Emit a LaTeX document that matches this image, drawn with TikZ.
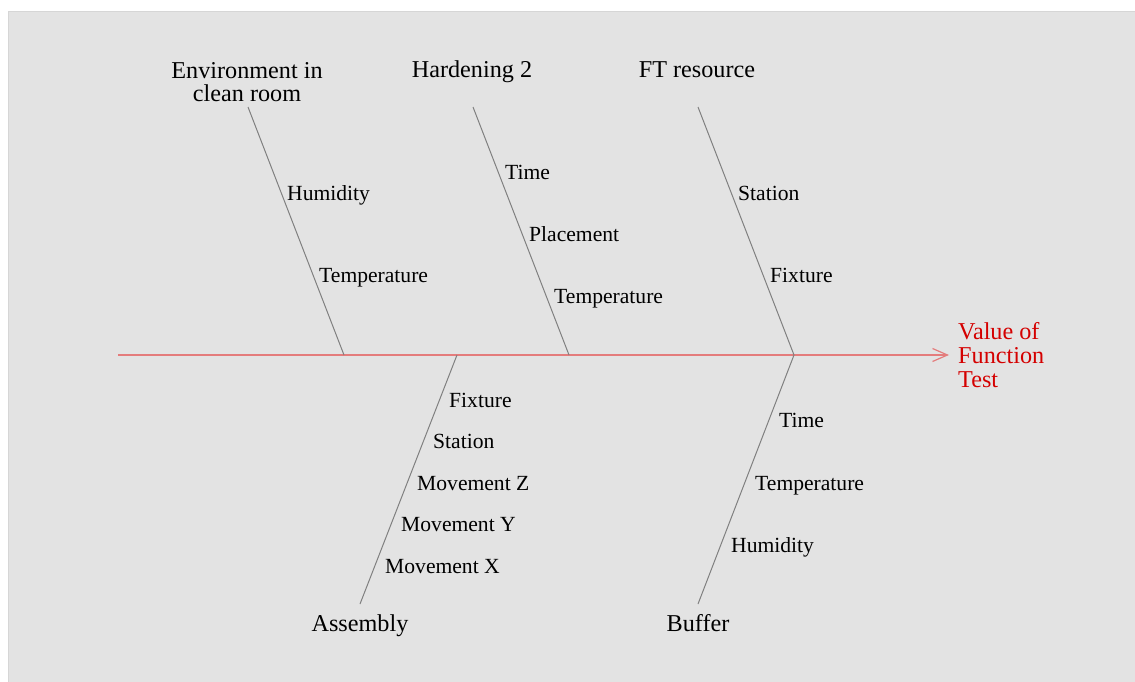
\documentclass[tikz,border=0pt]{standalone}
\usepackage{fontspec}
\setmainfont{Liberation Serif}
\usetikzlibrary{arrows.meta}
\definecolor{bg}{HTML}{E3E3E3}
\definecolor{bgedge}{HTML}{D6D6D6}
\definecolor{bone}{HTML}{808080}
\definecolor{spinecol}{HTML}{E47C7C}
\definecolor{effectcol}{HTML}{D40000}
\tikzset{
  bonestyle/.style={draw=bone, line width=1pt},
  spinestyle/.style={draw=spinecol, line width=1.4pt, -{Straight Barb[length=15pt,width=13pt,line width=1.2pt]}},
  cause/.style={font=\fontsize{24.2}{23.5}\selectfont, inner sep=0pt, text=black, text height=16pt, text depth=0pt},
  causetwo/.style={font=\fontsize{24.2}{23.5}\selectfont, align=center, inner sep=0pt, text=black},
  sub/.style={font=\fontsize{21.6}{24}\selectfont, anchor=west, inner sep=0pt, text=black, text height=14.3pt, text depth=0pt},
  effectstyle/.style={font=\fontsize{24.2}{24}\selectfont, align=left, anchor=west, inner sep=0pt, text=effectcol},
}
\begin{document}
\begin{tikzpicture}[x=1pt,y=-1pt]
\useasboundingbox (0,0) rectangle (1135,682);
\fill[bg] (8,11) rectangle (1135,682);
\draw[bgedge, line width=0.8pt] (8,682) -- (8,11) -- (1135,11);

% spine
\coordinate (tail) at (118,355);
\coordinate (head) at (949,355);
\draw[spinestyle] (tail) -- (head);
\node[effectstyle] (effect) at (958,355) {Value of\\Function\\Test};

% joints on spine
\coordinate (j1) at (344,355);
\coordinate (j2) at (569,355);
\coordinate (j3) at (794,355);
\coordinate (j4) at (457,355);

% top bones
\coordinate (t1) at (248,107);
\coordinate (t2) at (473,107);
\coordinate (t3) at (698,107);
\draw[bonestyle] (t1) -- (j1);
\draw[bonestyle] (t2) -- (j2);
\draw[bonestyle] (t3) -- (j3);

% bottom bones
\coordinate (b4) at (360,604);
\coordinate (b5) at (698,604);
\draw[bonestyle] (j4) -- (b4);
\draw[bonestyle] (j3) -- (b5);

% cause labels
\node[causetwo] (env) at (247,82) {Environment in\\clean room};
\node[cause] (hard) at (472,70) {Hardening 2};
\node[cause] (ft) at (697,70) {FT resource};
\node[cause] (asm) at (360,623) {Assembly};
\node[cause] (buf) at (698,623) {Buffer};

% sub causes: environment
\node[sub] (env1) at (287,193) {Humidity};
\node[sub] (env2) at (319,275) {Temperature};
% hardening
\node[sub] (h1) at (505,172) {Time};
\node[sub] (h2) at (529,234) {Placement};
\node[sub] (h3) at (554,296) {Temperature};
% FT resource
\node[sub] (f1) at (738,193) {Station};
\node[sub] (f2) at (770,275) {Fixture};
% assembly
\node[sub] (a1) at (449,400) {Fixture};
\node[sub] (a2) at (433,441) {Station};
\node[sub] (a3) at (417,483) {Movement Z};
\node[sub] (a4) at (401,524) {Movement Y};
\node[sub] (a5) at (385,566) {Movement X};
% buffer
\node[sub] (bu1) at (779,420) {Time};
\node[sub] (bu2) at (755,483) {Temperature};
\node[sub] (bu3) at (731,545) {Humidity};
\end{tikzpicture}
\end{document}
